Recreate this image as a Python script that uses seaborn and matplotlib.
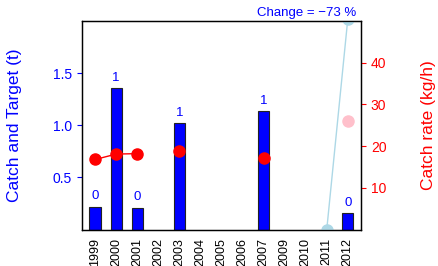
import matplotlib
matplotlib.use("Agg")
import matplotlib.pyplot as plt
import seaborn as sns
import numpy as np
import pandas as pd

sns.set_style("ticks")
plt.rcParams['font.family'] = ['Liberation Sans', 'DejaVu Sans']

years = ["1999", "2000", "2001", "2002", "2003", "2004", "2005", "2006",
         "2007", "2009", "2010", "2011", "2012"]
catch = [0.22, 1.36, 0.21, np.nan, 1.02, np.nan, np.nan, np.nan,
         1.14, np.nan, np.nan, np.nan, 0.16]
bar_labels = ["0", "1", "0", "", "1", "", "", "", "1", "", "", "", "0"]
catch_rate = [16.8, 18.1, 18.2, np.nan, 18.9, np.nan, np.nan, np.nan,
              17.1, np.nan, np.nan, np.nan, np.nan]
target_rate = [np.nan] * 11 + [0.0, 50.5]
pink_rate = [np.nan] * 12 + [26.1]
change_text = "Change = \u221273 %"

df = pd.DataFrame({"year": years, "catch": catch})

fig = plt.figure(figsize=(4.39, 2.66), dpi=100)
ax = fig.add_axes([0.187, 0.137, 0.635, 0.784])

sns.barplot(data=df, x="year", y="catch", order=years, color="blue",
            saturation=1, width=0.54, edgecolor="#222222", linewidth=0.8, ax=ax)
for i, (v, lab) in enumerate(zip(catch, bar_labels)):
    if lab and not np.isnan(v):
        ax.text(i, v + 0.04, lab, ha="center", va="bottom", color="blue", fontsize=9.5)

ax.set_ylim(0, 2.0)
ax.set_xlim(-0.62, 12.62)
ax.set_yticks([0.5, 1.0, 1.5])
ax.set_yticklabels(["0.5", "1.0", "1.5"])
ax.tick_params(axis="y", colors="blue", labelsize=10, length=3.6, pad=3.6)
ax.tick_params(axis="x", length=0, labelsize=9, labelcolor="black", rotation=90, pad=6)
ax.set_xlabel("")
ax.set_ylabel("Catch and Target (t)", color="blue", fontsize=12.5)
ax.yaxis.set_label_coords(-0.215, 0.5)
for s in ax.spines.values():
    s.set_color("black")
    s.set_linewidth(0.9)
    s.set_visible(True)

ax2 = ax.twinx()
xpos = np.arange(len(years))
ax2.plot(xpos, target_rate, color="lightblue", marker="o", markersize=8, lw=1, clip_on=True)
ax2.plot(xpos, catch_rate, color="red", marker="o", markersize=8, lw=1)
ax2.plot(xpos, pink_rate, color="pink", marker="o", markersize=8, lw=0)
ax2.set_ylim(0, 50)
ax2.set_yticks([10, 20, 30, 40])
ax2.tick_params(axis="y", colors="red", labelsize=10, length=3.6, pad=3.6)
ax2.set_ylabel("Catch rate (kg/h)", color="red", fontsize=12.5)
ax2.yaxis.set_label_coords(1.215, 0.5)
for s in ax2.spines.values():
    s.set_color("black")
    s.set_linewidth(0.9)

fig.text(0.811, 0.953, change_text, ha="right", va="center", color="blue", fontsize=9.5)

fig.savefig("out.png", dpi=100)
